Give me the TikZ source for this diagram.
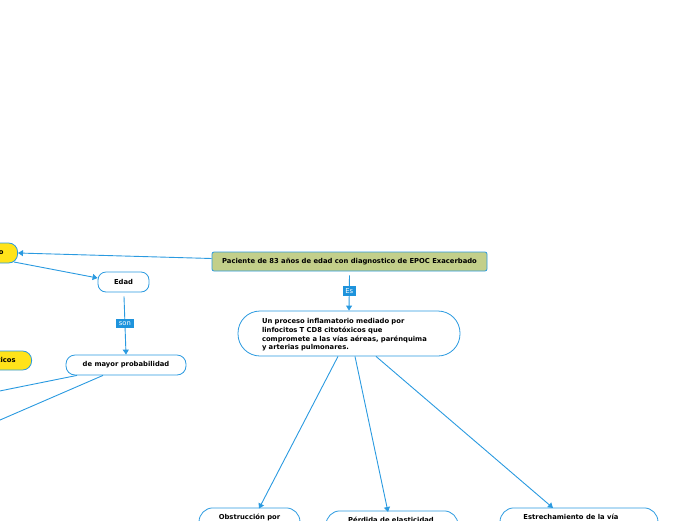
\documentclass[tikz,border=0pt]{standalone}
\usepackage{fontspec}
\setmainfont{DejaVu Sans}
\usetikzlibrary{calc,arrows.meta}
\definecolor{mmblue}{HTML}{2A9AE0}
\definecolor{lblblue}{HTML}{1E93DC}
\definecolor{olive}{HTML}{C3CF8A}
\definecolor{yel}{HTML}{FFE31A}
\tikzset{
  box/.style={draw=mmblue, line width=0.8pt, fill=white, inner sep=0pt, font=\fontsize{6.8}{8.7}\selectfont\bfseries},
  conn/.style={draw=mmblue, line width=0.9pt, -{Triangle[length=5pt,width=6pt]}},
  plain/.style={draw=mmblue, line width=0.9pt},
  lbl/.style={fill=lblblue, text=white, inner xsep=2.8pt, inner ysep=2.5pt, font=\fontsize{6.8}{7}\selectfont},
  txt/.style={inner sep=0pt, font=\fontsize{6.8}{8.7}\selectfont\bfseries}
}
\begin{document}
\begin{tikzpicture}[x=1pt,y=-1pt]
\useasboundingbox (0,0) rectangle (696,520);
\clip (0,0) rectangle (696,520);
% nodes
\node[box, fill=olive, rounded corners=2pt, minimum width=275pt, minimum height=19pt] (main) at (349.5,261.5) {Paciente de 83 años de edad con diagnostico de EPOC Exacerbado};
\node[box, rounded corners=22pt, minimum width=222pt, minimum height=45pt] (proc) at (349,333.5) {};
\node[txt, align=left, text width=174pt] (proct) at (349,335) {Un proceso inflamatorio mediado por\\linfocitos T CD8 citotóxicos que\\compromete a las vías aéreas, parénquima\\y arterias pulmonares.};
\node[box, fill=yel, rounded corners=9pt, minimum height=20pt, minimum width=110pt, anchor=east, align=right, text width=82pt] (fr) at (18,253) {Factores de riesgo};
\node[box, fill=yel, rounded corners=9pt, minimum height=19pt, minimum width=110pt, anchor=east, align=right, text width=78pt] (fg) at (32,360.5) {Factores genéticos};
\node[box, rounded corners=8pt, minimum width=51pt, minimum height=20pt] (edad) at (123.5,282) {Edad};
\node[box, rounded corners=9pt, minimum width=120pt, minimum height=20pt] (mayor) at (126,365) {de mayor probabilidad};
\node[box, rounded corners=14pt, minimum width=101pt, minimum height=40pt, anchor=north] (obs) at (249.5,507.5) {};
\node[txt, anchor=north] (obst) at (249.5,513.5) {Obstrucción por};
\node[box, rounded corners=14pt, minimum width=132pt, minimum height=40pt, anchor=north] (per) at (392,510.5) {};
\node[txt, anchor=north] (pert) at (391,517) {Pérdida de elasticidad};
\node[box, rounded corners=14pt, minimum width=158pt, minimum height=40pt, anchor=north] (est) at (579,507.5) {};
\node[txt, anchor=north] (estt) at (571,513.5) {Estrechamiento de la vía};
% free ends
\coordinate (o1) at (-60,403);
\coordinate (o2) at (-60,446);
% connectors
\draw[conn] ($(main.west)+(0,-3)$) -- (fr.east);
\draw[conn] ($(fr.east)+(-4,9)$) -- ($(edad.west)+(0,-4)$);
\draw[conn] ($(main.south)+(0,4)$) -- node[lbl,pos=0.45] (es) {Es} (proc.north);
\draw[conn] ($(edad.south)+(0.5,4)$) -- node[lbl,pos=0.47] (son) {son} (mayor.north);
\draw[plain] ($(mayor.south)+(-49,0)$) -- (o1);
\draw[plain] ($(mayor.south)+(-23,0)$) -- (o2);
\draw[conn] ($(proc.south)+(-11,0)$) -- ($(obs.north)+(9.5,1)$);
\draw[conn] ($(proc.south)+(6,0)$) -- ($(per.north)+(-4,1.5)$);
\draw[conn] ($(proc.south)+(27,0)$) -- ($(est.north)+(-26,0.5)$);
\end{tikzpicture}
\end{document}
